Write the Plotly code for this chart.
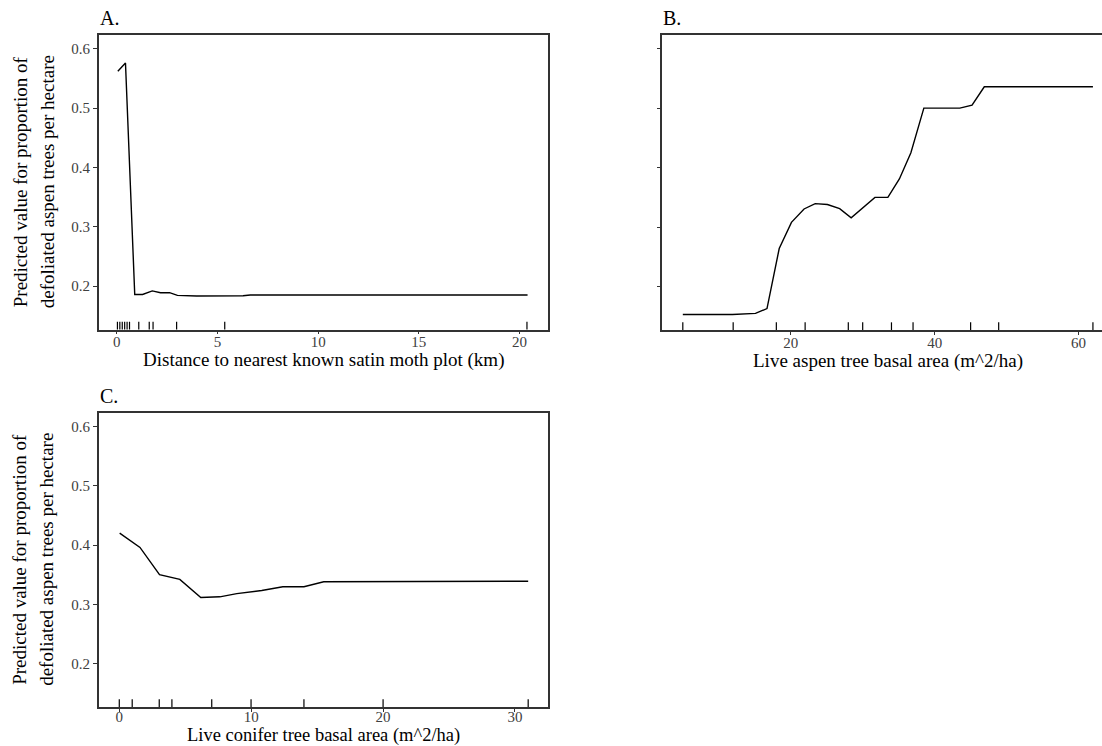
import plotly.graph_objects as go

W, H = 1102, 746

# Panel A: distance to nearest known satin moth plot (km)
dist_km = [0.05, 0.43, 0.89, 1.28, 1.76, 2.17, 2.62, 3.01, 3.96, 6.27, 6.63, 20.4]
dist_pred = [0.562, 0.576, 0.186, 0.186, 0.192, 0.189, 0.189, 0.1844, 0.1833, 0.1838, 0.1852, 0.1852]
dist_rug = [0.03, 0.15, 0.27, 0.39, 0.51, 0.63, 1.09, 1.61, 1.80, 2.97, 5.36, 20.37]

# Panel B: live aspen tree basal area (m^2/ha)
aspen_ba = [5.0, 11.9, 15.1, 16.7, 18.4, 20.1, 21.85, 23.4, 25.1, 26.8, 28.4, 30.1,
            31.7, 33.5, 35.1, 36.7, 38.5, 43.5, 45.2, 46.9, 62.0]
aspen_pred = [0.153, 0.153, 0.155, 0.163, 0.264, 0.308, 0.3305, 0.3395, 0.338, 0.331, 0.3155, 0.334,
              0.350, 0.350, 0.381, 0.425, 0.500, 0.500, 0.505, 0.536, 0.536]
aspen_rug = [5.0, 12.0, 18.0, 22.0, 28.0, 30.0, 34.0, 37.0, 45.0, 48.9, 62.0]

# Panel C: live conifer tree basal area (m^2/ha)
conifer_ba = [0.03, 1.57, 3.05, 4.59, 6.18, 7.62, 8.91, 10.8, 12.4, 14.0, 15.5, 17.3, 19.7, 31.0]
conifer_pred = [0.420, 0.396, 0.350, 0.342, 0.3116, 0.3127, 0.318, 0.3234, 0.3296, 0.3296,
                0.338, 0.338, 0.339, 0.339]
conifer_rug = [0.0, 0.98, 3.03, 3.99, 7.01, 9.99, 14.0, 20.0, 31.0]

y_ticks = [0.2, 0.3, 0.4, 0.5, 0.6]
y_tick_text = ["0.2", "0.3", "0.4", "0.5", "0.6"]
y_title_lines = ["Predicted value for proportion of", "defoliated aspen trees per hectare"]

panels = [
    dict(letter="A.", x=dist_km, y=dist_pred, rug=dist_rug,
         xtitle="Distance to nearest known satin moth plot (km)",
         xticks=[0, 5, 10, 15, 20], xrange=[-0.9, 21.4],
         px=(98.7, 547.7), py=(35.0, 329.5), ylabels=True, right_frame=True,
         title_dy=31, title_size=19, label_shift=-5),
    dict(letter="B.", x=aspen_ba, y=aspen_pred, rug=aspen_rug,
         xtitle="Live aspen tree basal area (m^2/ha)",
         xticks=[20, 40, 60], xrange=[2.15, 63.26],
         px=(662.3, 1102.0), py=(35.0, 330.0), ylabels=False, right_frame=False,
         title_cx=887.6, title_dy=31, title_size=19, label_shift=-5),
    dict(letter="C.", x=conifer_ba, y=conifer_pred, rug=conifer_rug,
         xtitle="Live conifer tree basal area (m^2/ha)",
         xticks=[0, 10, 20, 30], xrange=[-1.56, 32.48],
         px=(98.7, 547.7), py=(412.7, 707.0), ylabels=True, right_frame=True,
         title_dy=28, title_size=18.5, label_shift=-8),
]

SERIF = "Liberation Serif, Times New Roman, serif"
FRAME = "#333333"
TICKCOL = "#404040"

fig = go.Figure()
annotations = []
shapes = []


def fx(p):
    return p / W


def fy(p):
    return 1 - p / H


for i, p in enumerate(panels, start=1):
    xa = "x" if i == 1 else f"x{i}"
    ya = "y" if i == 1 else f"y{i}"
    xkey = "xaxis" if i == 1 else f"xaxis{i}"
    ykey = "yaxis" if i == 1 else f"yaxis{i}"

    fig.add_trace(go.Scatter(
        x=p["x"], y=p["y"], mode="lines", xaxis=xa, yaxis=ya,
        line=dict(color="black", width=1.4), showlegend=False, hoverinfo="skip",
    ))

    # rug of observed predictor values along the bottom of the panel
    for v in p["rug"]:
        shapes.append(dict(type="line", xref=xa, yref=f"{ya} domain",
                           x0=v, x1=v, y0=0, y1=0.026,
                           line=dict(color="black", width=1.2)))

    x0, x1 = p["px"]
    y0, y1 = p["py"]
    fig.update_layout(**{
        xkey: dict(domain=[fx(x0), fx(x1)], range=p["xrange"], anchor=ya,
                   tickvals=p["xticks"], ticktext=[str(t) for t in p["xticks"]],
                   ticks="outside", ticklen=3, tickwidth=1, tickcolor=FRAME,
                   ticklabelstandoff=p["label_shift"],
                   showline=True, linecolor=FRAME, linewidth=1.5, mirror=True,
                   showgrid=False, zeroline=False,
                   tickfont=dict(family=SERIF, size=15, color=TICKCOL)),
        ykey: dict(domain=[fy(y1), fy(y0)], range=[0.127, 0.623], anchor=xa,
                   tickvals=y_ticks, ticktext=y_tick_text,
                   showticklabels=p["ylabels"],
                   ticks="outside", ticklen=4, tickwidth=1, tickcolor=FRAME,
                   showline=True, linecolor=FRAME, linewidth=1.5,
                   mirror=p["right_frame"],
                   showgrid=False, zeroline=False,
                   tickfont=dict(family=SERIF, size=15, color=TICKCOL)),
    })

    # panel letter
    annotations.append(dict(text=p["letter"], xref="paper", yref="paper",
                            x=fx(x0 - 1), y=fy(y0 - 4), xanchor="left", yanchor="bottom",
                            showarrow=False, font=dict(family=SERIF, size=20, color="black")))
    # x-axis title
    cx = p.get("title_cx", (x0 + x1) / 2)
    annotations.append(dict(text=p["xtitle"], xref="paper", yref="paper",
                            x=fx(cx), y=fy(y1 + p["title_dy"]), xanchor="center",
                            yanchor="middle", showarrow=False, borderpad=0,
                            font=dict(family=SERIF, size=p["title_size"], color="black")))
    # y-axis title (two lines) for the left-hand panels
    if p["ylabels"]:
        cy = (y0 + y1) / 2
        for lx, line in zip((20, 47), y_title_lines):
            annotations.append(dict(text=line, xref="paper", yref="paper",
                                    x=fx(lx), y=fy(cy), xanchor="center", yanchor="middle",
                                    textangle=-90, showarrow=False,
                                    font=dict(family=SERIF, size=19, color="black")))

fig.update_layout(
    width=W, height=H,
    margin=dict(l=0, r=0, t=0, b=0),
    paper_bgcolor="white", plot_bgcolor="white",
    annotations=annotations, shapes=shapes,
    showlegend=False,
)

fig.write_html("out.html")
